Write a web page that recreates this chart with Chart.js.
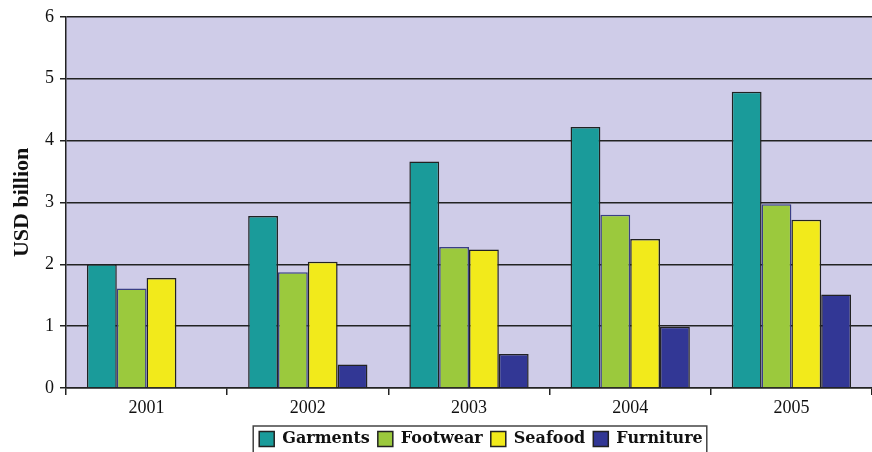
<!DOCTYPE html>
<html>
<head>
<meta charset="utf-8">
<script src="https://cdn.jsdelivr.net/npm/chart.js@4"></script>
<style>
  html, body { margin:0; padding:0; background:#fff; }
  #wrap { width:872px; height:452px; }
</style>
</head>
<body>
<div id="wrap"><canvas id="chart" width="872" height="452"></canvas></div>
<script>
// Export values by year, USD billion
const years = ['2001', '2002', '2003', '2004', '2005'];
const garments  = [2.00, 2.78, 3.66, 4.22, 4.79];
const footwear  = [1.61, 1.87, 2.28, 2.80, 2.97];
const seafood   = [1.78, 2.04, 2.24, 2.41, 2.72];
const furniture = [0, 0.38, 0.55, 0.99, 1.51];
const yTicks = [0, 1, 2, 3, 4, 5, 6];

const serif = '"Liberation Serif", "DejaVu Serif", serif';
const ink = '#222';

// lavender plot background
const plotBg = {
  id: 'plotBg',
  beforeDraw(c){
    const a = c.chartArea, g = c.ctx;
    g.save();
    g.fillStyle = '#cfcce8';
    g.fillRect(a.left, a.top, a.right - a.left, a.bottom - a.top);
    g.restore();
  }
};

// legend centred under the plot area instead of the canvas, with a frame round it
const legendFrame = {
  id: 'legendFrame',
  afterLayout(c){
    const lg = c.legend;
    const dx = (c.chartArea.left + c.chartArea.right) / 2 - (lg.left + lg.right) / 2 + 12;
    const dy = 5;
    lg.left += dx; lg.right += dx;
    lg.top += dy; lg.bottom += dy;
    (lg.legendHitBoxes || []).forEach(b => { b.left += dx; b.top += dy; });
  },
  afterDraw(c){
    const boxes = c.legend.legendHitBoxes;
    if(!boxes || !boxes.length) return;
    const l = Math.min(...boxes.map(b => b.left)) - 6;
    const r = Math.max(...boxes.map(b => b.left + b.width)) + 4;
    const t = Math.min(...boxes.map(b => b.top)) - 10;
    const g = c.ctx;
    g.save();
    g.strokeStyle = '#444';
    g.lineWidth = 1.5;
    g.strokeRect(l, t, r - l, 60);
    g.restore();
  }
};

function ds(label, data, color, border){
  return {label, data, backgroundColor: color, borderColor: border || ink, borderWidth: 1.5,
          borderSkipped: 'bottom', categoryPercentage: 0.74, barPercentage: 1.0};
}

new Chart(document.getElementById('chart'), {
  type: 'bar',
  data: {
    labels: years,
    datasets: [
      ds('Garments', garments, '#1a9b9a'),
      ds('Footwear', footwear, '#9bc93d', '#3a3f86'),
      ds('Seafood', seafood, '#f2ea1b'),
      ds('Furniture', furniture, '#323795')
    ]
  },
  options: {
    responsive: false,
    animation: false,
    layout: { padding: { top: 8, right: 0, left: 4, bottom: 0 } },
    plugins: {
      tooltip: { enabled: false },
      legend: {
        position: 'bottom',
        labels: {
          color: '#111',
          font: { family: '"DejaVu Serif", serif', size: 16, weight: 'bold' },
          boxWidth: 15, boxHeight: 15, padding: 8,
          generateLabels(c){
            return c.data.datasets.map((d, i) => ({
              text: d.label, fillStyle: d.backgroundColor, strokeStyle: ink,
              lineWidth: 1.5, datasetIndex: i, fontColor: '#111'
            }));
          }
        }
      }
    },
    scales: {
      x: {
        afterFit(s){ s.height = 30; },
        grid: { display: true, offset: true, drawOnChartArea: false, color: ink, lineWidth: 1.5, tickLength: 7 },
        border: { color: ink, width: 1.5 },
        ticks: { color: '#111', font: { family: serif, size: 18 }, padding: 2 }
      },
      y: {
        min: 0, max: 6,
        afterFit(s){ s.width = 62; },
        afterBuildTicks(s){ s.ticks = yTicks.map(v => ({value: v})); },
        grid: { color: ink, lineWidth: 1.5, tickLength: 6 },
        border: { color: ink, width: 1.5 },
        ticks: { color: '#111', font: { family: serif, size: 18 }, padding: 6 },
        title: { display: true, text: 'USD billion', color: '#111',
                 font: { family: serif, size: 22, weight: 'bold' }, padding: { top: 5, bottom: 4 } }
      }
    }
  },
  plugins: [plotBg, legendFrame]
});
</script>
</body>
</html>
